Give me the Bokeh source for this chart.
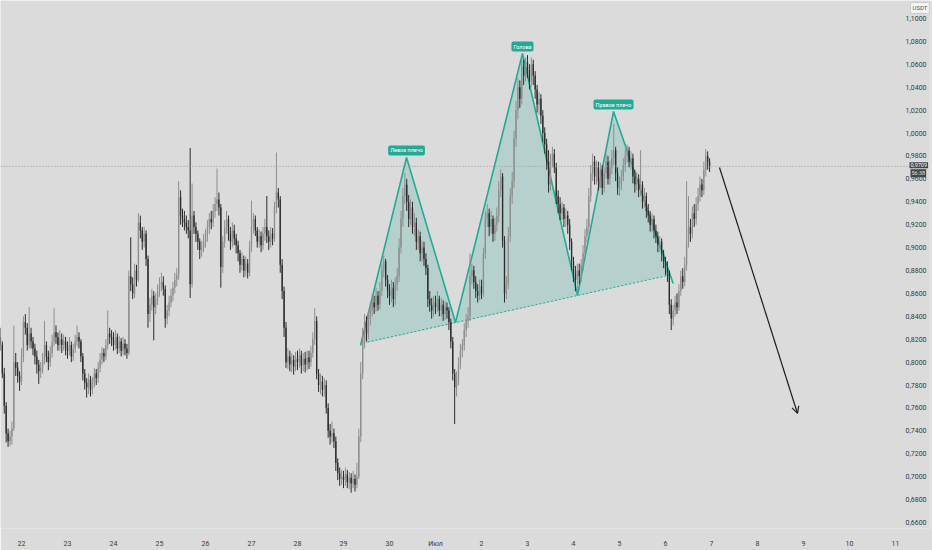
import numpy as np
from bokeh.plotting import figure
from bokeh.models import (Range1d, FixedTicker, CustomJSTickFormatter, Span, Label,
                          Arrow, OpenHead, ColumnDataSource)
from bokeh.embed import file_html
from bokeh.resources import INLINE

# ---------------- data (hourly candles, hours relative to 22 June 00:00) ----------------
first_hour = -11          # first candle: 21 June 13:00
first_open = 0.822

close_by_day = [
    [0.815, 0.790, 0.762, 0.738, 0.731, 0.735, 0.742, 0.800, 0.795, 0.788, 0.783],
    [0.805, 0.835, 0.830, 0.815, 0.825, 0.818, 0.812, 0.805, 0.798, 0.792, 0.795, 0.802, 0.815, 0.805, 0.800, 0.808, 0.818, 0.826, 0.822, 0.815, 0.820, 0.815, 0.818, 0.812],
    [0.810, 0.815, 0.805, 0.812, 0.818, 0.822, 0.818, 0.805, 0.790, 0.782, 0.778, 0.785, 0.776, 0.782, 0.790, 0.786, 0.795, 0.802, 0.808, 0.805, 0.815, 0.825, 0.822, 0.820],
    [0.815, 0.822, 0.812, 0.818, 0.810, 0.816, 0.812, 0.808, 0.875, 0.868, 0.860, 0.880, 0.872, 0.922, 0.915, 0.905, 0.912, 0.890, 0.842, 0.850, 0.858, 0.848, 0.855, 0.862],
    [0.866, 0.870, 0.864, 0.838, 0.845, 0.852, 0.858, 0.865, 0.872, 0.876, 0.944, 0.928, 0.925, 0.922, 0.918, 0.915, 0.868, 0.928, 0.918, 0.912, 0.905, 0.898, 0.900, 0.905],
    [0.910, 0.918, 0.925, 0.922, 0.932, 0.938, 0.942, 0.935, 0.883, 0.905, 0.918, 0.925, 0.912, 0.905, 0.915, 0.908, 0.902, 0.895, 0.885, 0.890, 0.880, 0.886, 0.878, 0.900],
    [0.918, 0.925, 0.915, 0.905, 0.910, 0.902, 0.912, 0.918, 0.910, 0.905, 0.912, 0.908, 0.935, 0.948, 0.942, 0.885, 0.862, 0.830, 0.800, 0.805, 0.798, 0.802, 0.796, 0.803],
    [0.800, 0.806, 0.797, 0.803, 0.798, 0.804, 0.800, 0.808, 0.820, 0.836, 0.790, 0.780, 0.783, 0.776, 0.780, 0.760, 0.740, 0.735, 0.738, 0.731, 0.712, 0.703, 0.698, 0.700],
    [0.697, 0.702, 0.695, 0.699, 0.694, 0.698, 0.693, 0.700, 0.735, 0.790, 0.820, 0.835, 0.825, 0.838, 0.845, 0.852, 0.848, 0.858, 0.850, 0.862, 0.880, 0.888, 0.872, 0.862],
    [0.858, 0.865, 0.855, 0.868, 0.875, 0.900, 0.925, 0.945, 0.955, 0.940, 0.925, 0.935, 0.918, 0.922, 0.905, 0.910, 0.895, 0.900, 0.890, 0.882, 0.855, 0.850, 0.845, 0.852],
    [0.848, 0.855, 0.845, 0.850, 0.842, 0.848, 0.845, 0.835, 0.818, 0.790, 0.778, 0.785, 0.798, 0.810, 0.815, 0.828, 0.836, 0.840, 0.875, 0.880, 0.870, 0.862, 0.858, 0.866],
    [0.860, 0.895, 0.925, 0.930, 0.918, 0.925, 0.912, 0.920, 0.928, 0.950, 0.962, 0.906, 0.860, 0.868, 0.910, 0.945, 0.958, 0.995, 1.020, 1.040, 1.030, 1.058, 1.050, 1.062],
    [1.055, 1.045, 1.060, 1.050, 1.038, 1.025, 1.030, 1.015, 1.000, 0.990, 0.975, 0.955, 0.975, 0.982, 0.970, 0.945, 0.938, 0.930, 0.935, 0.925, 0.928, 0.920, 0.905, 0.888],
    [0.878, 0.872, 0.880, 0.875, 0.885, 0.895, 0.910, 0.918, 0.945, 0.965, 0.975, 0.962, 0.970, 0.958, 0.968, 0.952, 0.965, 0.975, 0.960, 0.970, 0.978, 0.985, 0.965, 0.952],
    [0.955, 0.962, 0.972, 0.980, 0.985, 0.975, 0.978, 0.962, 0.955, 0.960, 0.950, 0.955, 0.940, 0.945, 0.932, 0.928, 0.920, 0.925, 0.915, 0.910, 0.902, 0.905, 0.895, 0.888],
    [0.882, 0.878, 0.850, 0.838, 0.845, 0.852, 0.848, 0.862, 0.875, 0.870, 0.885, 0.905, 0.918, 0.912, 0.930, 0.925, 0.938, 0.945, 0.955, 0.950, 0.968, 0.980, 0.975, 0.9709],
]

high_by_day = [
    [0.830, 0.818, 0.795, 0.765, 0.742, 0.740, 0.748, 0.832, 0.808, 0.800, 0.792],
    [0.812, 0.840, 0.842, 0.834, 0.848, 0.830, 0.822, 0.816, 0.810, 0.802, 0.800, 0.808, 0.836, 0.818, 0.810, 0.814, 0.824, 0.847, 0.832, 0.826, 0.828, 0.825, 0.824, 0.822],
    [0.818, 0.822, 0.818, 0.816, 0.824, 0.832, 0.826, 0.820, 0.808, 0.794, 0.786, 0.790, 0.788, 0.787, 0.795, 0.794, 0.800, 0.808, 0.813, 0.812, 0.820, 0.845, 0.830, 0.828],
    [0.826, 0.828, 0.825, 0.823, 0.821, 0.822, 0.820, 0.816, 0.880, 0.909, 0.874, 0.886, 0.885, 0.930, 0.928, 0.918, 0.918, 0.915, 0.893, 0.856, 0.864, 0.862, 0.860, 0.868],
    [0.874, 0.878, 0.875, 0.867, 0.850, 0.858, 0.864, 0.870, 0.878, 0.882, 0.958, 0.950, 0.934, 0.932, 0.928, 0.924, 0.987, 0.956, 0.932, 0.922, 0.915, 0.908, 0.906, 0.912],
    [0.916, 0.924, 0.930, 0.932, 0.938, 0.944, 0.969, 0.948, 0.938, 0.910, 0.924, 0.932, 0.928, 0.918, 0.922, 0.920, 0.912, 0.906, 0.898, 0.896, 0.893, 0.892, 0.890, 0.906],
    [0.941, 0.930, 0.928, 0.918, 0.916, 0.914, 0.918, 0.925, 0.945, 0.915, 0.918, 0.917, 0.940, 0.983, 0.952, 0.945, 0.890, 0.866, 0.835, 0.812, 0.810, 0.808, 0.806, 0.809],
    [0.810, 0.812, 0.810, 0.808, 0.809, 0.810, 0.810, 0.814, 0.826, 0.847, 0.840, 0.794, 0.790, 0.788, 0.786, 0.784, 0.764, 0.746, 0.748, 0.742, 0.735, 0.716, 0.708, 0.706],
    [0.705, 0.708, 0.706, 0.704, 0.703, 0.705, 0.702, 0.712, 0.742, 0.800, 0.830, 0.842, 0.840, 0.845, 0.852, 0.860, 0.858, 0.865, 0.862, 0.870, 0.886, 0.893, 0.890, 0.876],
    [0.868, 0.872, 0.870, 0.874, 0.882, 0.908, 0.932, 0.952, 0.965, 0.960, 0.946, 0.942, 0.940, 0.930, 0.926, 0.916, 0.914, 0.906, 0.905, 0.895, 0.885, 0.862, 0.856, 0.858],
    [0.858, 0.862, 0.858, 0.856, 0.854, 0.853, 0.852, 0.848, 0.838, 0.822, 0.794, 0.792, 0.804, 0.816, 0.820, 0.834, 0.842, 0.848, 0.895, 0.886, 0.884, 0.875, 0.868, 0.872],
    [0.872, 0.900, 0.932, 0.938, 0.934, 0.932, 0.928, 0.926, 0.935, 0.958, 0.968, 0.965, 0.910, 0.875, 0.918, 0.952, 0.966, 1.002, 1.028, 1.048, 1.046, 1.068, 1.064, 1.066],
    [1.068, 1.060, 1.066, 1.064, 1.054, 1.042, 1.036, 1.034, 1.020, 1.005, 0.995, 0.985, 0.982, 0.988, 0.986, 0.974, 0.950, 0.944, 0.940, 0.938, 0.934, 0.932, 0.925, 0.908],
    [0.892, 0.884, 0.886, 0.886, 0.890, 0.902, 0.916, 0.925, 0.952, 0.972, 0.982, 0.980, 0.976, 0.975, 0.974, 0.972, 0.970, 0.982, 0.980, 0.976, 0.985, 1.008, 0.988, 0.970],
    [0.962, 0.968, 0.978, 0.986, 0.990, 0.988, 0.984, 0.982, 0.968, 0.966, 0.964, 0.985, 0.958, 0.952, 0.948, 0.938, 0.932, 0.930, 0.928, 0.920, 0.914, 0.910, 0.908, 0.898],
    [0.892, 0.888, 0.880, 0.855, 0.850, 0.858, 0.860, 0.868, 0.880, 0.882, 0.892, 0.958, 0.945, 0.925, 0.936, 0.938, 0.944, 0.952, 0.962, 0.960, 0.975, 0.986, 0.984, 0.978],
]

low_by_day = [
    [0.810, 0.786, 0.755, 0.730, 0.726, 0.727, 0.728, 0.740, 0.788, 0.782, 0.775],
    [0.780, 0.800, 0.824, 0.810, 0.812, 0.812, 0.806, 0.798, 0.790, 0.781, 0.786, 0.790, 0.798, 0.800, 0.793, 0.796, 0.804, 0.814, 0.816, 0.810, 0.810, 0.808, 0.810, 0.806],
    [0.803, 0.806, 0.800, 0.801, 0.808, 0.814, 0.812, 0.800, 0.784, 0.776, 0.769, 0.772, 0.770, 0.772, 0.778, 0.780, 0.782, 0.791, 0.798, 0.800, 0.802, 0.811, 0.816, 0.814],
    [0.810, 0.811, 0.807, 0.808, 0.805, 0.806, 0.806, 0.803, 0.806, 0.862, 0.855, 0.856, 0.866, 0.870, 0.908, 0.898, 0.900, 0.884, 0.830, 0.835, 0.845, 0.819, 0.842, 0.850],
    [0.857, 0.862, 0.858, 0.830, 0.833, 0.840, 0.848, 0.853, 0.860, 0.866, 0.872, 0.920, 0.918, 0.915, 0.912, 0.908, 0.856, 0.865, 0.912, 0.905, 0.898, 0.890, 0.892, 0.896],
    [0.900, 0.905, 0.912, 0.916, 0.918, 0.926, 0.932, 0.928, 0.865, 0.878, 0.900, 0.912, 0.906, 0.898, 0.900, 0.902, 0.895, 0.888, 0.878, 0.880, 0.874, 0.875, 0.873, 0.875],
    [0.896, 0.912, 0.910, 0.900, 0.900, 0.896, 0.898, 0.906, 0.904, 0.898, 0.900, 0.902, 0.905, 0.930, 0.935, 0.878, 0.855, 0.822, 0.795, 0.794, 0.792, 0.791, 0.789, 0.792],
    [0.793, 0.795, 0.790, 0.792, 0.791, 0.793, 0.794, 0.796, 0.804, 0.815, 0.785, 0.774, 0.772, 0.770, 0.770, 0.755, 0.734, 0.728, 0.730, 0.725, 0.705, 0.697, 0.692, 0.693],
    [0.690, 0.692, 0.690, 0.689, 0.686, 0.690, 0.687, 0.690, 0.698, 0.730, 0.785, 0.812, 0.818, 0.820, 0.832, 0.840, 0.842, 0.844, 0.845, 0.846, 0.858, 0.874, 0.866, 0.856],
    [0.850, 0.852, 0.848, 0.850, 0.862, 0.870, 0.895, 0.918, 0.938, 0.932, 0.918, 0.920, 0.912, 0.910, 0.898, 0.898, 0.888, 0.888, 0.884, 0.876, 0.848, 0.844, 0.838, 0.840],
    [0.842, 0.844, 0.840, 0.840, 0.836, 0.837, 0.838, 0.828, 0.812, 0.784, 0.746, 0.770, 0.780, 0.794, 0.804, 0.810, 0.822, 0.830, 0.836, 0.868, 0.864, 0.856, 0.852, 0.854],
    [0.855, 0.857, 0.890, 0.918, 0.910, 0.912, 0.905, 0.906, 0.914, 0.922, 0.944, 0.900, 0.852, 0.855, 0.864, 0.905, 0.938, 0.952, 0.988, 1.012, 1.022, 1.025, 1.042, 1.045],
    [1.048, 1.038, 1.040, 1.042, 1.030, 1.018, 1.016, 1.008, 0.992, 0.982, 0.968, 0.948, 0.950, 0.970, 0.965, 0.938, 0.930, 0.924, 0.924, 0.918, 0.918, 0.912, 0.898, 0.880],
    [0.870, 0.862, 0.860, 0.868, 0.870, 0.880, 0.890, 0.904, 0.912, 0.940, 0.958, 0.955, 0.955, 0.950, 0.952, 0.946, 0.948, 0.960, 0.955, 0.955, 0.964, 0.972, 0.958, 0.946],
    [0.945, 0.950, 0.958, 0.966, 0.974, 0.970, 0.968, 0.956, 0.948, 0.950, 0.944, 0.945, 0.934, 0.935, 0.926, 0.922, 0.914, 0.914, 0.908, 0.904, 0.896, 0.896, 0.888, 0.882],
    [0.876, 0.870, 0.842, 0.828, 0.832, 0.840, 0.842, 0.845, 0.858, 0.864, 0.866, 0.880, 0.900, 0.905, 0.908, 0.918, 0.920, 0.932, 0.940, 0.944, 0.946, 0.962, 0.968, 0.966],
]

day_ticks = list(range(20))
day_labels = ["22", "23", "24", "25", "26", "27", "28", "29", "30", "Июл",
              "2", "3", "4", "5", "6", "7", "8", "9", "10", "11"]
price_ticks = [0.66, 0.68, 0.70, 0.72, 0.74, 0.76, 0.78, 0.80, 0.82, 0.84, 0.86, 0.88,
               0.90, 0.92, 0.94, 0.96, 0.98, 1.00, 1.02, 1.04, 1.06, 1.08, 1.10]
last_price = 0.9709
last_price_text = "0,9709"
countdown_text = "56:38"
currency_text = "USDT"

# head & shoulders drawing (days since 22 June, price)
pattern_days = [7.370, 8.370, 9.435, 10.891, 12.087, 12.870, 14.167]
pattern_prices = [0.8145, 0.9787, 0.8346, 1.0694, 0.8582, 1.0188, 0.8687]
fill_days = [7.380, 8.370, 9.435, 10.891, 12.087, 12.870, 14.103]
fill_prices = [0.8155, 0.9787, 0.8346, 1.0694, 0.8582, 1.0188, 0.8761]
neck_days = [7.522, 14.103]
neck_prices = [0.8176, 0.8761]
pattern_label_idx = [1, 3, 5]
pattern_labels = ["Левое плечо", "Голова", "Правое плечо"]
arrow_days = [15.174, 16.870]
arrow_prices = [0.9699, 0.7552]

# ---------------- build ----------------
close = np.concatenate([np.array(d, float) for d in close_by_day])
high = np.concatenate([np.array(d, float) for d in high_by_day])
low = np.concatenate([np.array(d, float) for d in low_by_day])
n = len(close)
opens = np.concatenate([[first_open], close[:-1]])
x = (np.arange(n) + first_hour) / 24.0
up = close >= opens
src = ColumnDataSource(dict(
    x=x, high=high, low=low,
    top=np.maximum(opens, close), bottom=np.minimum(opens, close),
    color=np.where(up, "#8e8e8e", "#2c2c2c"),
))

BG = "#dbdbdb"
TEAL = "#22ab94"
FONT = "Roboto"

# the frame spans the whole chart incl. the price-scale strip (px -> days: (px-21)/46)
X0, X1 = -0.4565, 19.761
Y0, Y1 = 0.65476, 1.11571
TAG_X = 19.304        # left edge of price-scale tags (px 909)
CUR_X = 19.326        # left edge of currency box (px 910)

p = figure(frame_width=930, frame_height=528,
           x_range=Range1d(X0, X1), y_range=Range1d(Y0, Y1),
           y_axis_location="right", output_backend="svg", toolbar_location=None,
           background_fill_color=BG, border_fill_color=BG, min_border=0,
           min_border_right=2, outline_line_color=None)
p.xgrid.visible = False
p.ygrid.visible = False

# current price dotted line
p.add_layout(Span(location=last_price, dimension="width", line_color="#9c9c9c",
                  line_dash="1 2", line_width=1))

# head & shoulders pattern
p.patch(fill_days, fill_prices, fill_color=TEAL, fill_alpha=0.2, line_color=None)
p.line(neck_days, neck_prices, line_color=TEAL, line_width=1, line_dash="2 2")
p.line(pattern_days, pattern_prices, line_color=TEAL, line_width=1.6)

# candles
p.segment(x0="x", y0="low", x1="x", y1="high", line_color="color", line_width=1, source=src)
p.vbar(x="x", width=0.7 / 24, top="top", bottom="bottom", fill_color="color",
       line_color=None, source=src)

for i, txt in zip(pattern_label_idx, pattern_labels):
    p.add_layout(Label(x=pattern_days[i], y=pattern_prices[i], text=txt,
                       text_align="center", text_baseline="bottom", y_offset=2,
                       text_font=FONT, text_font_size="5.5px", text_color="white",
                       background_fill_color=TEAL, border_radius=2, padding=2))

# forecast arrow
p.add_layout(Arrow(end=OpenHead(size=7, line_color="#1e1e1e", line_width=1.2),
                   x_start=arrow_days[0], y_start=arrow_prices[0],
                   x_end=arrow_days[1], y_end=arrow_prices[1],
                   line_color="#1e1e1e", line_width=1.2))

# axes
p.xaxis.ticker = FixedTicker(ticks=day_ticks)
p.xaxis.major_label_overrides = {t: l for t, l in zip(day_ticks, day_labels)}
p.yaxis.ticker = FixedTicker(ticks=price_ticks)
p.yaxis.formatter = CustomJSTickFormatter(code="return tick.toFixed(4).replace('.', ',');")
for ax in (p.xaxis, p.yaxis):
    ax.axis_line_color = None
    ax.major_tick_line_color = None
    ax.minor_tick_line_color = None
    ax.major_tick_out = 0
    ax.major_tick_in = 0
    ax.minor_tick_out = 0
    ax.major_label_text_font = FONT
    ax.major_label_text_font_size = "7px"
    ax.major_label_text_color = "#3a3a3a"
p.yaxis.major_label_standoff = -25   # labels sit in the price-scale strip (px 905-926)
p.xaxis.major_label_standoff = 11

# price tag and currency on the price scale
p.add_layout(Label(x=TAG_X, y=last_price, text=last_price_text, y_offset=-2,
                   text_align="left", text_baseline="bottom", text_font=FONT,
                   text_font_size="5.5px", text_color="white",
                   background_fill_color="#444444", padding=1))
p.add_layout(Label(x=TAG_X, y=last_price, text=countdown_text, x_offset=1, y_offset=-3,
                   text_align="left", text_baseline="top", text_font=FONT,
                   text_font_size="5.5px", text_color="#e0e0e0",
                   background_fill_color="#444444", padding=1))
p.add_layout(Label(x=CUR_X, y=1.1140, text=currency_text,
                   text_align="left", text_baseline="top", text_font=FONT,
                   text_font_size="6px", text_color="#555555",
                   background_fill_color="#f5f5f5", border_line_color="#c8c8c8",
                   border_radius=2, padding=2))

open("out.html", "w").write(file_html(p, INLINE))
